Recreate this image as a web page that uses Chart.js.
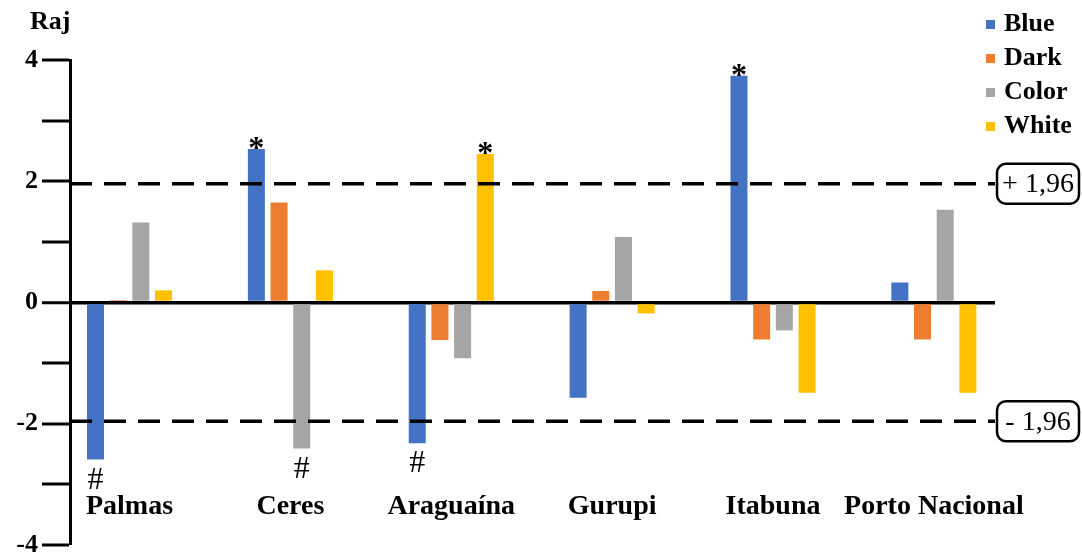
<!DOCTYPE html>
<html>
<head>
<meta charset="utf-8">
<script src="https://cdn.jsdelivr.net/npm/chart.js@4.4.1/dist/chart.umd.min.js"></script>
<style>
  html, body { margin: 0; padding: 0; background: #fff; }
  #wrap { position: relative; width: 1082px; height: 555px; }
</style>
</head>
<body>
<div id="wrap"><canvas id="chart"></canvas></div>
<script>
const categories = ["Palmas", "Ceres", "Araguaína", "Gurupi", "Itabuna", "Porto Nacional"];
const seriesNames = ["Blue", "Dark", "Color", "White"];
const blue  = [-2.59, 2.53, -2.32, -1.57, 3.74, 0.33];
const dark  = [0.04, 1.65, -0.62, 0.19, -0.61, -0.61];
const color = [1.32, -2.41, -0.92, 1.08, -0.46, 1.53];
const white = [0.20, 0.53, 2.45, -0.18, -1.49, -1.49];
const critical = [1.96, -1.96];
const criticalLabels = ["+ 1,96", "- 1,96"];
const yLabelled = [4, 2, 0, -2, -4];
// x range of the category axis (index units)
const xMin = -0.37, xMax = 5.38;
// significance marks: series index, category index, symbol
const marks = [
  [0, 1, "*"], [3, 2, "*"], [0, 4, "*"],
  [0, 0, "#"], [2, 1, "#"], [0, 2, "#"],
];

const palette = ["#4472C4", "#ED7D31", "#A5A5A5", "#FFC000"];
const serif = "'Liberation Serif', 'Times New Roman', serif";

const barSets = [blue, dark, color, white].map((vals, s) => ({
  type: "bar",
  label: seriesNames[s],
  data: vals.map((v, i) => ({ x: i, y: v })),
  backgroundColor: palette[s],
  borderWidth: 0,
  categoryPercentage: 0.564,
  barPercentage: 0.75,
  order: 1,
}));

const lineSets = critical.map(v => ({
  type: "line",
  label: "crit" + v,
  data: [{ x: xMin, y: v }, { x: xMax, y: v }],
  borderColor: "#000",
  borderWidth: 3.5,
  borderDash: [22, 12],
  pointRadius: 0,
  order: 0,
}));

const extras = {
  id: "extras",
  afterDatasetsDraw(chart) {
    const { ctx } = chart;
    ctx.save();
    ctx.fillStyle = "#000";
    ctx.textAlign = "center";
    ctx.textBaseline = "alphabetic";
    for (const [s, i, sym] of marks) {
      const bar = chart.getDatasetMeta(lineSets.length + s).data[i];
      if (!bar) continue;
      if (sym === "*") {
        ctx.font = "bold 32px " + serif;
        ctx.fillText("*", bar.x, bar.y + 9);
      } else {
        ctx.font = "32px " + serif;
        ctx.fillText("#", bar.x, bar.y + 29);
      }
    }
    ctx.restore();
  },
  afterDraw(chart) {
    const { ctx, scales: { y } } = chart;
    ctx.save();
    ctx.fillStyle = "#000";
    // y title
    ctx.font = "bold 26px " + serif;
    ctx.textAlign = "left";
    ctx.textBaseline = "middle";
    ctx.fillText("Raj", 30, 22);
    // legend
    barSets.forEach((d, k) => {
      const cy = 24 + k * 34;
      ctx.fillStyle = d.backgroundColor;
      ctx.fillRect(986, cy - 4, 9, 9);
      ctx.fillStyle = "#000";
      ctx.fillText(d.label, 1004, cy);
    });
    // critical value boxes
    ctx.lineWidth = 2.5;
    ctx.strokeStyle = "#000";
    ctx.textAlign = "center";
    ctx.font = "28px " + serif;
    critical.forEach((v, k) => {
      const py = y.getPixelForValue(v);
      ctx.beginPath();
      ctx.roundRect(997, py - 20, 82, 40, 9);
      ctx.stroke();
      ctx.fillText(criticalLabels[k], 1038, py + 1);
    });
    ctx.restore();
  },
};

new Chart(document.getElementById("chart"), {
  data: { datasets: [...lineSets, ...barSets] },
  options: {
    responsive: true,
    maintainAspectRatio: false,
    animation: false,
    layout: { padding: { top: 60, right: 87, bottom: 10, left: 10 } },
    plugins: { legend: { display: false }, tooltip: { enabled: false } },
    scales: {
      x: {
        type: "linear",
        min: xMin,
        max: xMax,
        offset: false,
        position: { y: -3.1 },
        afterBuildTicks: s => { s.ticks = categories.map((c, i) => ({ value: i })); },
        afterFit: s => { s.paddingLeft = 0; s.paddingRight = 0; },
        ticks: {
          autoSkip: false,
          maxRotation: 0,
          padding: 0,
          color: "#000",
          font: { family: serif, size: 28, weight: "bold" },
          callback: v => categories[v],
        },
        grid: { display: false, drawTicks: false, offset: false },
        border: { display: false },
      },
      y: {
        min: -4,
        max: 4,
        afterFit: s => { s.width = 60; s.paddingTop = 0; s.paddingBottom = 0; },
        ticks: {
          stepSize: 1,
          padding: 4,
          color: "#000",
          font: { family: serif, size: 26, weight: "bold", lineHeight: 1 },
          callback: v => (yLabelled.includes(v) ? String(v) : ""),
        },
        grid: {
          color: c => (c.tick && c.tick.value === 0 ? "#000" : "rgba(0,0,0,0)"),
          lineWidth: c => (c.tick && c.tick.value === 0 ? 3.5 : 0),
          tickColor: "#000",
          tickWidth: 3,
          tickLength: 28,
        },
        border: { display: true, color: "#000", width: 3 },
      },
    },
  },
  plugins: [extras],
});
</script>
</body>
</html>
